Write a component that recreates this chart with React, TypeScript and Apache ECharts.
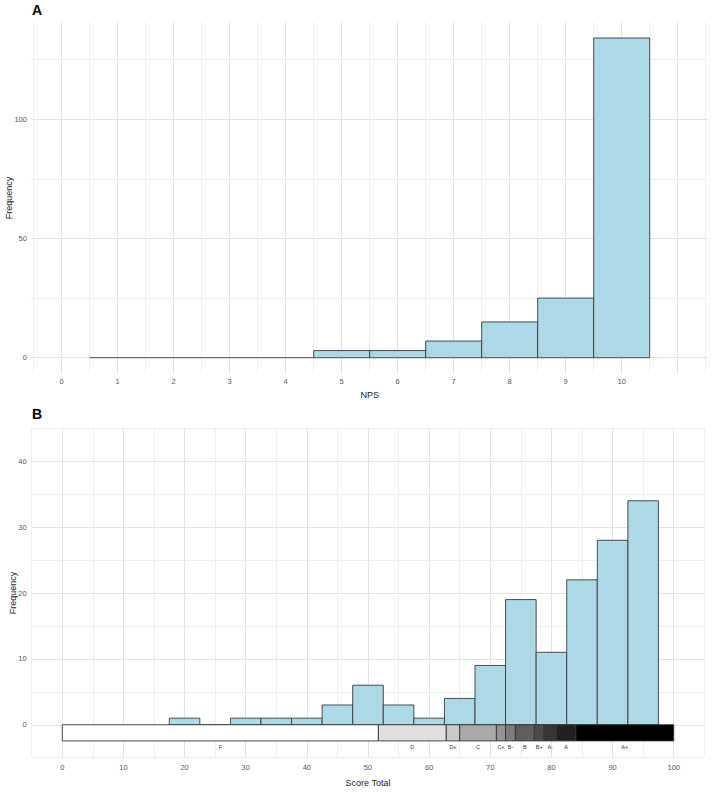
import React, { useEffect, useRef } from "react";
import * as echarts from "echarts";

// ---- Panel A: NPS histogram ----
const npsBinCenters = [1, 2, 3, 4, 5, 6, 7, 8, 9, 10];
const npsCounts = [0, 0, 0, 0, 3, 3, 7, 15, 25, 134];
const npsBinWidth = 1;
const npsXTicks = [0, 1, 2, 3, 4, 5, 6, 7, 8, 9, 10];
const npsXGridMajor = [0, 1, 2, 3, 4, 5, 6, 7, 8, 9, 10, 11];
const npsXGridMinor = [-0.5, 0.5, 1.5, 2.5, 3.5, 4.5, 5.5, 6.5, 7.5, 8.5, 9.5, 10.5, 11.5];
const npsYTicks = [0, 50, 100];
const npsYMinor = [25, 75, 125];

// ---- Panel B: Score Total histogram ----
const scoreBinCenters = [20, 25, 30, 35, 40, 45, 50, 55, 60, 65, 70, 75, 80, 85, 90, 95];
const scoreCounts = [1, 0, 1, 1, 1, 3, 6, 3, 1, 4, 9, 19, 11, 22, 28, 34];
const scoreBinWidth = 5;
const scoreXTicks = [0, 10, 20, 30, 40, 50, 60, 70, 80, 90, 100];
const scoreYTicks = [0, 10, 20, 30, 40];

// ---- Grade band ----
const gradeNames = ["F", "D", "D+", "C", "C+", "B-", "B", "B+", "A-", "A", "A+"];
const gradeBreaks = [0, 51.7, 62.8, 65, 71, 72.5, 74.1, 77.2, 78.8, 80.8, 84, 100];
const gradeColors = [
  "#ffffff", "#e0e0e0", "#c9c9c9", "#a9a9a9", "#939393", "#7d7d7d",
  "#5e5e5e", "#4a4a4a", "#363636", "#212121", "#000000",
];
const gradeBandBottom = -2.45;
const gradeLabelY = -3.3;

const FONT = "Liberation Sans, Arial, sans-serif";
const MAJOR = "#e3e3e3";
const MINOR = "#efefef";
const BAR_FILL = "#add8e6";
const BAR_STROKE = "#3a3a3a";

function histRender(params: any, api: any) {
  const x0 = api.value(0);
  const x1 = api.value(1);
  const y = api.value(2);
  const p0 = api.coord([x0, 0]);
  const p1 = api.coord([x1, y]);
  if (y === 0) {
    return {
      type: "line",
      shape: { x1: p0[0], y1: p0[1], x2: p1[0], y2: p0[1] },
      style: { stroke: BAR_STROKE, lineWidth: 0.9 },
    };
  }
  return {
    type: "rect",
    shape: { x: p0[0], y: p1[1], width: p1[0] - p0[0], height: p0[1] - p1[1] },
    style: { fill: BAR_FILL, stroke: BAR_STROKE, lineWidth: 0.9 },
  };
}

function gradeRender(params: any, api: any) {
  const x0 = api.value(0);
  const x1 = api.value(1);
  const idx = api.value(2);
  const pTop = api.coord([x0, 0]);
  const pBot = api.coord([x1, gradeBandBottom]);
  const pLab = api.coord([(x0 + x1) / 2, gradeLabelY]);
  return {
    type: "group",
    children: [
      {
        type: "rect",
        shape: { x: pTop[0], y: pTop[1], width: pBot[0] - pTop[0], height: pBot[1] - pTop[1] },
        style: { fill: gradeColors[idx], stroke: "#333333", lineWidth: 0.9 },
      },
      {
        type: "text",
        style: {
          text: gradeNames[idx],
          x: pLab[0],
          y: pLab[1],
          align: "center",
          verticalAlign: "middle",
          fontSize: 5.5,
          fontFamily: FONT,
          fill: "#333333",
        },
      },
    ],
  };
}

export default function App() {
  const ref = useRef<HTMLDivElement>(null);
  useEffect(() => {
    if (!ref.current) return;
    const chart = echarts.init(ref.current, null, { renderer: "svg" });

    const npsData = npsBinCenters.map((c, i) => [c - npsBinWidth / 2, c + npsBinWidth / 2, npsCounts[i]]);
    const scoreData = scoreBinCenters.map((c, i) => [c - scoreBinWidth / 2, c + scoreBinWidth / 2, scoreCounts[i]]);
    const gradeData = gradeNames.map((_, i) => [gradeBreaks[i], gradeBreaks[i + 1], i]);

    const gridLines = (axis: "xAxis" | "yAxis", vals: number[], color: string) =>
      vals.map((v) => ({ [axis]: v, lineStyle: { color, width: 1, type: "solid" } }));

    const tickLabel = { color: "#555555", fontSize: 7.5, fontFamily: FONT };
    const nameStyle = { color: "#222222", fontSize: 9, fontFamily: FONT };
    const yNameStyle = { text: "Frequency", fill: "#222222", fontSize: 9, fontFamily: FONT, align: "center", verticalAlign: "middle" };

    chart.setOption({
      animation: false,
      backgroundColor: "#ffffff",
      graphic: [
        { type: "text", left: 32, top: 3, style: { text: "A", font: `bold 14px ${FONT}`, fill: "#000" } },
        { type: "text", left: 32, top: 407, style: { text: "B", font: `bold 14px ${FONT}`, fill: "#000" } },
        { type: "text", x: 8.5, y: 198, rotation: Math.PI / 2, style: yNameStyle },
        { type: "text", x: 12.5, y: 593, rotation: Math.PI / 2, style: yNameStyle },
      ],
      grid: [
        { left: 30.9, width: 677.6, top: 22, height: 351.7, containLabel: false, outerBoundsMode: "none" },
        { left: 31.7, width: 672.6, top: 428.3, height: 329.4, containLabel: false, outerBoundsMode: "none" },
      ],
      xAxis: [
        {
          gridIndex: 0,
          type: "value",
          min: -0.55,
          max: 11.55,
          name: "NPS",
          nameLocation: "middle",
          nameGap: 17,
          nameTextStyle: nameStyle,
          axisLine: { show: false },
          axisTick: { show: false },
          splitLine: { show: false },
          axisLabel: { ...tickLabel, margin: 4, customValues: npsXTicks },
        },
        {
          gridIndex: 1,
          type: "value",
          min: -5,
          max: 105,
          interval: 5,
          name: "Score Total",
          nameLocation: "middle",
          nameGap: 20.5,
          nameTextStyle: nameStyle,
          axisLine: { show: false },
          axisTick: { show: false },
          splitLine: { show: true, lineStyle: { color: [MINOR, MAJOR], width: 1 } },
          axisLabel: {
            ...tickLabel,
            margin: 6,
            customValues: scoreXTicks,
          },
        },
      ],
      yAxis: [
        {
          gridIndex: 0,
          type: "value",
          min: -6.7,
          max: 140.7,
          axisLine: { show: false },
          axisTick: { show: false },
          splitLine: { show: false },
          axisLabel: { ...tickLabel, margin: 4, customValues: npsYTicks },
        },
        {
          gridIndex: 1,
          type: "value",
          min: -5,
          max: 45,
          interval: 5,
          axisLine: { show: false },
          axisTick: { show: false },
          splitLine: { show: true, lineStyle: { color: [MINOR, MAJOR], width: 1 } },
          axisLabel: { ...tickLabel, margin: 5, customValues: scoreYTicks },
        },
      ],
      series: [
        {
          type: "line",
          xAxisIndex: 0,
          yAxisIndex: 0,
          data: [],
          z: 0,
          silent: true,
          markLine: {
            silent: true,
            z: 0,
            symbol: "none",
            label: { show: false },
            animation: false,
            data: [
              ...gridLines("xAxis", npsXGridMinor, MINOR),
              ...gridLines("yAxis", npsYMinor, MINOR),
              ...gridLines("xAxis", npsXGridMajor, MAJOR),
              ...gridLines("yAxis", npsYTicks, MAJOR),
            ],
          },
        },
        {
          type: "custom",
          xAxisIndex: 0,
          yAxisIndex: 0,
          z: 5,
          renderItem: histRender,
          encode: { x: [0, 1], y: 2 },
          data: npsData,
        },
        {
          type: "custom",
          xAxisIndex: 1,
          yAxisIndex: 1,
          z: 5,
          renderItem: histRender,
          encode: { x: [0, 1], y: 2 },
          data: scoreData,
        },
        {
          type: "custom",
          xAxisIndex: 1,
          yAxisIndex: 1,
          z: 6,
          renderItem: gradeRender,
          encode: { x: [0, 1] },
          data: gradeData,
        },
      ],
    });
    return () => chart.dispose();
  }, []);
  return (
    <div
      ref={ref}
      style={{ position: "fixed", left: 0, top: 0, width: 713, height: 800, background: "#fff" }}
    />
  );
}
